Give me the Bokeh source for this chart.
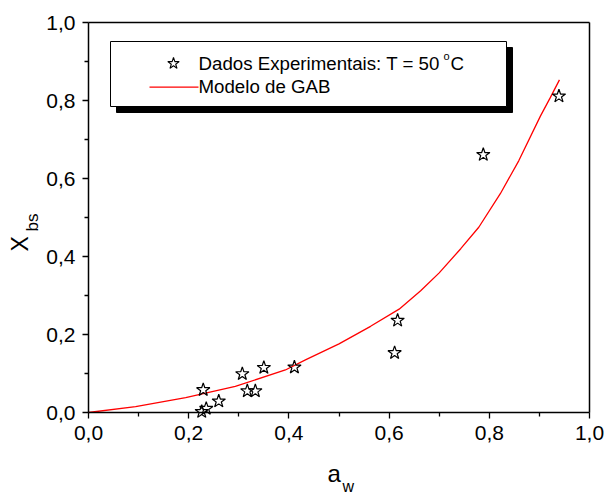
import math
from bokeh.plotting import figure
from bokeh.models import Range1d, FixedTicker, CustomJSTickFormatter, Label, LinearAxis
from bokeh.embed import file_html
from bokeh.resources import INLINE

# ---- data ----
aw_exp = [0.226, 0.235, 0.229, 0.260, 0.307, 0.317, 0.333, 0.350, 0.411, 0.611, 0.617, 0.788, 0.939]
x_exp = [0.002, 0.010, 0.058, 0.029, 0.099, 0.055, 0.055, 0.115, 0.116, 0.153, 0.236, 0.661, 0.811]

aw_gab = [0.0, 0.094, 0.194, 0.293, 0.393, 0.433, 0.500, 0.563, 0.620, 0.663, 0.700, 0.743, 0.779,
          0.822, 0.859, 0.902, 0.922, 0.940]
x_gab = [0.0, 0.015, 0.038, 0.067, 0.109, 0.135, 0.176, 0.221, 0.265, 0.312, 0.358, 0.420, 0.475,
         0.561, 0.646, 0.760, 0.808, 0.853]

major_ticks = [0.0, 0.2, 0.4, 0.6, 0.8, 1.0]
minor_ticks = [0.1, 0.3, 0.5, 0.7, 0.9]

series_exp = "Dados Experimentais: T = 50 "
series_gab = "Modelo de GAB"

FONT = "Liberation Sans"

# ---- geometry (pixels) of the axes box inside the 604x496 canvas ----
W, H = 604, 496
FL, FR, FT, FB = 88, 589, 22, 412
SX = (FR - FL)          # pixels per unit on x
SY = (FB - FT)          # pixels per unit on y
BASE_SHIFT = 0.38       # renderer places the alphabetic baseline ~0.38 em lower


def px_x(px):
    return (px - FL) / SX


def px_y(py):
    return (FB - py) / SY


# the frame covers the whole canvas; the axes are pinned at 0 / 1
p = figure(width=W, height=H, output_backend="svg", toolbar_location=None,
           x_range=Range1d(px_x(0), px_x(W)), y_range=Range1d(px_y(H), px_y(0)),
           min_border=0, min_border_left=0, min_border_right=0,
           min_border_top=0, min_border_bottom=0,
           background_fill_color="white", border_fill_color="white")
p.outline_line_color = None
p.xgrid.visible = False
p.ygrid.visible = False

fmt = CustomJSTickFormatter(code="return tick.toFixed(1).replace('.', ',');")


def style_axis(ax, labels=True):
    ax.fixed_location = 0.0 if labels else 1.0
    ax.bounds = (0.0, 1.0)
    ax.axis_line_color = "black"
    ax.axis_line_width = 1.5
    if labels:
        ax.ticker = FixedTicker(ticks=major_ticks, minor_ticks=minor_ticks)
        ax.formatter = fmt
        ax.major_tick_line_color = "black"
        ax.minor_tick_line_color = "black"
        ax.major_tick_line_width = 1.3
        ax.minor_tick_line_width = 1.3
        ax.major_tick_in = 0
        ax.major_tick_out = 6
        ax.minor_tick_in = 0
        ax.minor_tick_out = 4
        ax.major_label_text_font = FONT
        ax.major_label_text_font_size = "21px"
        ax.major_label_text_color = "black"
        ax.major_label_standoff = 7
    else:
        ax.ticker = FixedTicker(ticks=[], minor_ticks=[])
        ax.major_tick_line_color = None
        ax.minor_tick_line_color = None
        ax.major_label_text_font_size = "0px"


style_axis(p.xaxis[0])
style_axis(p.yaxis[0])
top_ax = LinearAxis()
right_ax = LinearAxis()
style_axis(top_ax, labels=False)
style_axis(right_ax, labels=False)
p.add_layout(top_ax, "above")
p.add_layout(right_ax, "right")

# ---- legend box with shadow ----
p.quad(left=px_x(116), right=px_x(512), top=px_y(47), bottom=px_y(112),
       fill_color="black", line_color="black")
p.quad(left=px_x(110), right=px_x(506), top=px_y(41), bottom=px_y(106),
       fill_color="white", line_color="black", line_width=1)

# ---- data ----
p.line(aw_gab, x_gab, line_color="#ff0000", line_width=1.3)
p.scatter(aw_exp, x_exp, marker="star", size=14, fill_alpha=0,
          line_color="black", line_width=1.2)

# ---- legend glyphs ----
p.scatter([px_x(173)], [px_y(63)], marker="star", size=12, fill_alpha=0,
          line_color="black", line_width=1.1)
p.line([px_x(149), px_x(198)], [px_y(86.7), px_y(86.7)], line_color="#ff0000", line_width=1.3)


def add_label(text, bx, by, size, angle=0.0):
    """bx, by: wanted baseline start in canvas pixels."""
    s = BASE_SHIFT * size
    if angle == 0.0:
        x, y = px_x(bx), px_y(by - s)
    else:
        x, y = px_x(bx - s), px_y(by)
    p.add_layout(Label(x=x, y=y, text=text, text_font=FONT, text_font_size=f"{size}px",
                       text_color="black", text_align="left", text_baseline="alphabetic",
                       angle=angle))


add_label(series_exp, 198, 70, 18.7)
add_label("o", 443, 60, 11)
add_label("C", 450, 70, 18.7)
add_label(series_gab, 198, 92.7, 18.7)

# axis titles
add_label("a", 327, 482, 24)
add_label("w", 342, 492, 16)
add_label("X", 28, 251, 23, angle=math.pi / 2)
add_label("bs", 38, 231, 17, angle=math.pi / 2)

open("out.html", "w").write(file_html(p, INLINE))
